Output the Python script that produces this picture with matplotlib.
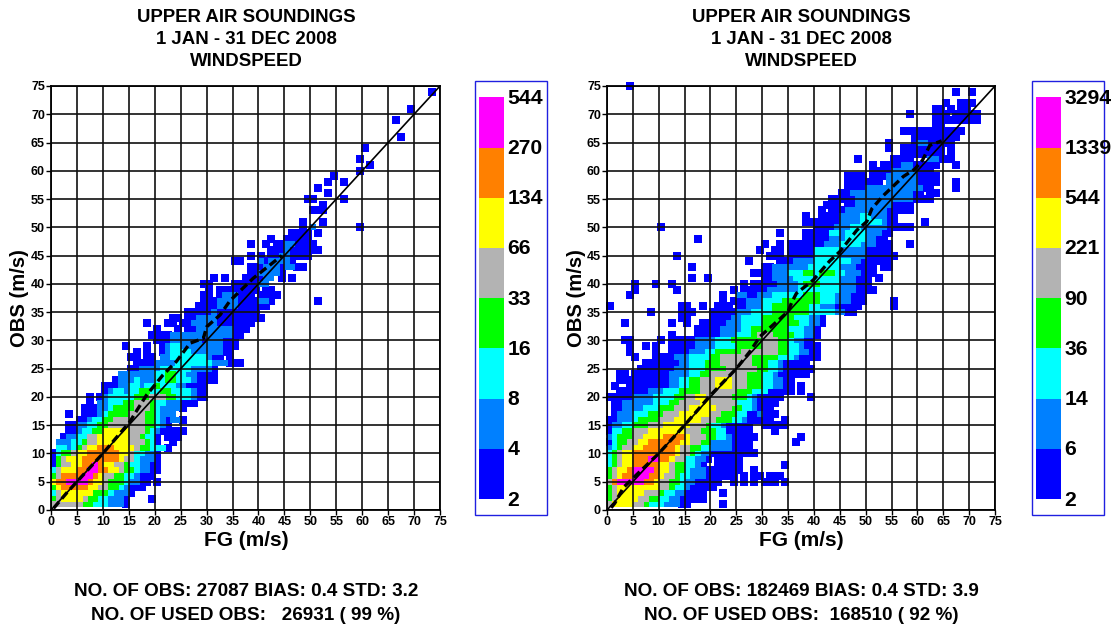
import matplotlib
matplotlib.use("Agg")
import matplotlib.pyplot as plt
from matplotlib.patches import Rectangle

plt.rcParams["font.family"] = ["Liberation Sans", "DejaVu Sans"]
plt.rcParams["font.weight"] = "bold"

W, H = 1120, 628

level_colors = ["#0000ff", "#0080ff", "#00ffff", "#00ff00", "#b3b3b3", "#ffff00", "#ff8000", "#ff00ff"]
left_levels = ["2", "4", "8", "16", "33", "66", "134", "270", "544"]
right_levels = ["2", "6", "14", "36", "90", "221", "544", "1339", "3294"]
ticks = list(range(0, 80, 5))

# one string per OBS value (index = m/s), "col:digits", digit = colour class
left_rows = [
    "",
    "0:55555544333222 1",
    "0:4566665443 3222 14:1 19:1",
    "0:356666664443222 1",
    "0:467777766554432111",
    "0:677888876654443 2 2 1 1 20:1",
    "0:45777788765544332 111",
    "0:356667788776654432211",
    "0:145566778766554332211",
    "0:1456667777777 6553 2221",
    "0:13445667777776 6 5 3 3 2 2 1",
    "1:33234566777666654433 31",
    "1:22233455666666555431 23:1",
    "2:1223355666666554331 22:111",
    "3:11233446666655543211111",
    "3:11223344555555544321",
    "5:112334455555544321221",
    "3:1 6:111234444555443222",
    "6:11122344445554322221",
    "7:1 9:2233344555433 2 2 2111",
    "7:1 9:1233333444555443332 11 27:1",
    "10:12332334433443333211",
    "10:11122332334333221111",
    "12:12223222334433321111",
    "13:2222222334433221111",
    "15:11222233333322221",
    "16:1111222233333332221 1 1",
    "15:1 16:1 18:11 21:2233333332 11 34:1",
    "16:1 18:1 21:12333322222211",
    "14:1 18:1 21:123322222222 11 35:1",
    "20:111222222122211 1",
    "19:11112222222222221 1",
    "20:1 24:1 26:112222222111",
    "18:1 22:11 25:11222221111111",
    "23:11 26:112222111111111",
    "26:11111211111111",
    "28:11112222111111",
    "29:1112222111122 1 51:1",
    "29:11 32:12221110 40:111 43:1",
    "30:1 32:11111111 41:11",
    "29:11 35:11111 40:22",
    "31:1 33:1 37:111122 44:1 46:1",
    "38:1122221",
    "38:11122212211",
    "35:11 40:212222 1",
    "38:1 40:1 42:11221111",
    "42:1112111111",
    "38:1 41:1 43:11221111",
    "42:1 45:11111",
    "46:1111 51:1",
    "48:1 50:2 59:1",
    "48:1 52:1",
    "",
    "50:111",
    "52:1",
    "49:11 56:1",
    "53:1",
    "51:1",
    "53:1 56:1",
    "54:1",
    "59:1",
    "61:1",
    "59:1",
    "",
    "60:1",
    "",
    "67:1",
    "",
    "",
    "66:1",
    "",
    "69:1",
    "",
    "",
    "73:1",
]

right_rows = [
    "",
    "0:566665543332221 1 22:1",
    "0:4566665544332211111",
    "0:4566666555433221111 22:1",
    "0:456666666655433211111",
    "0:5788888776554432211111 24:1 26:1 28:1 30:111 34:1",
    "0:4567788877655433222111111 26:1 28:11 31:111",
    "0:45667888876654432221111111 28:1",
    "0:3456677777665443321 21:1111 25:1 34:1",
    "0:34566777887765533221 21:11111",
    "0:345667777777765543221 21:1111111 28:1",
    "0:2345566777777655443322221111",
    "0:1344556677777766554422221111 36:1",
    "0:23444556666777765554433211111 37:1",
    "0:1334455566666665554443311111 32:1",
    "0:1223344455566666555433211111 30:11111",
    "0:112223444455566666555444332111 1 31:1 34:1",
    "1:122233344455566666655444331 1 2 111",
    "1:11222233344455566666555443321 11",
    "1:1122222233344555566555553332 1111",
    "0:1111122223333445566555554443 2 11111 39:1",
    "2:111 5:11122233344445555555444333 1111 35:1 37:1",
    "1:1 4:11111111223344555666555444332211 37:1",
    "2:11 4:11111111223344555666555444332211",
    "2:11 5:1111111222233445555555444 33 2 111111 37:1",
    "6:1111111222333444455555544 332 111111",
    "7:1 8:11111122333444555555444 33 2 11111",
    "5:1 9:1111222333344 555555444443332 1111",
    "4:1 9:1 12:11112223344444 5555555 44332 211",
    "4:1 7:1 9:1 12:111112222333344444555443 3 2 111",
    "3:11 10:1 12:111112222333444444555443 22 11",
    "12:1 17:11111222333 4555 4444 33 22 1",
    "17:111112222334444444 3332 21",
    "3:1 12:1 15:1 18:11111222333344444443322 1",
    "14:11 20:11112233334444443332 21",
    "8:1 14:111 20:11111222333344444443333322 11",
    "0:1 14:11 18:1 21:111 25:11222334444444332221111 48:1 55:1",
    "22:1 24:111222333344444443332 221 11 48:1 55:1",
    "4:1 22:1 25:221122233333344433322211 1",
    "5:1 13:1 24:1 26:1111 30:1222222333333332 2 2 1111",
    "5:1 9:1 12:1 26:1 28:1111 32:1222 2 3 4 4 4 3 3 3 3 2 2 2 1 1 1",
    "16:1 19:1 30:11222233333333322 2 111 52:1",
    "28:11112223334 4 3444332221 1 1",
    "16:1 30:1 31:12222222 33333 3 2 2 2 1111 53:11",
    "27:1 33:1112222 333333322 1111 11",
    "13:1 31:111 35:11111 40:33333 45:22222 50:111111",
    "29:1 32:11 35:11111 40:33333 45:22222 50:11111",
    "30:1 33:1 35:1111111 42:222 45:3333 49:222 52:111 58:1",
    "17:1 38:11111 43:222 46:3333 50:22 52:11",
    "33:1 38:11111 43:33 45:2 46:3333 50:222 53:11",
    "10:1 40:1111 44:222 47:33 49:222 52:22 54:11 56:111",
    "38:1111111 45:2222 49:33 51:33 53:2 54:11 61:1",
    "38:1 41:1111 45:2222 49:33 51:222 54:11",
    "41:1 43:111 46:22222 2 2 2 11111",
    "42:111 46:11 48:2222222 11 1 1",
    "43:111 46:11 48:22222222222 1 1 1 1",
    "45:11 47:22 49:222222 2222 11 62:11",
    "46:1111 50:22222222222 61:11 67:1",
    "46:1111111 54:222222 1 1 1 1 67:1",
    "46:1111 51:111 54:222222 1111",
    "51:1111 55:22222 111",
    "51:1 53:1111 57:22 1 1 1 1 1 67:1",
    "48:1 55:1111 62:22 1 1 1 66:1",
    "57:111 60:11111 66:1",
    "54:1 57:111 60:11111 66:1",
    "54:1 59:1 60:22 62:11111",
    "59:111111111",
    "57:111111111111",
    "63:11",
    "63:111 66:111111",
    "58:1 63:111 67:1111 71:1",
    "63:11 66:1 68:11",
    "65:1 68:11 70:1",
    "",
    "67:1 70:1",
    "4:1",
]

left_mean_fg = [0.5, 3, 5, 10, 15.2, 16.2, 18.4, 21.6, 24.2, 26.8, 29.4, 30, 32.6, 34.5, 39, 44.5]
left_mean_obs = [0.3, 3, 5, 10, 15.6, 17.1, 20.3, 23.9, 26.3, 29.5, 30.4, 32.4, 34.5, 37, 41, 45]
right_mean_fg = [0.8, 1.5, 3.2, 5, 10, 15, 20, 25, 27.6, 29.6, 35, 35.7, 36.6, 39.9, 43, 45, 48.3, 50.2, 51.2, 53.4, 55, 57.3, 59.5, 61, 62.4, 64.7]
right_mean_obs = [0.4, 1.2, 4, 5.6, 10, 15, 20.3, 25, 28, 30.7, 35.1, 36.7, 38.3, 40.7, 44, 45.7, 49.5, 51, 53.3, 55.6, 57, 59, 60.3, 61.9, 64.5, 65.3]

titles = ["UPPER AIR SOUNDINGS", "1 JAN - 31 DEC 2008", "WINDSPEED"]
left_stats = ["NO. OF OBS: 27087 BIAS: 0.4 STD: 3.2", "NO. OF USED OBS:   26931 ( 99 %)"]
right_stats = ["NO. OF OBS: 182469 BIAS: 0.4 STD: 3.9", "NO. OF USED OBS:  168510 ( 92 %)"]


def parse(rows):
    out = [[] for _ in level_colors]
    for obs, row in enumerate(rows):
        col = None
        for part in row.split():
            if ":" in part:
                start, digits = part.split(":")
                col = int(start)
            else:
                digits = part
            for ch in digits:
                if ch != "0":
                    out[int(ch) - 1].append((col + 0.5, obs))
                col += 1
    return out


def panel(x0, x1, rows, mean_fg, mean_obs, levels, stats, bar_x):
    cx = (x0 + x1) / 2 + 0.5
    ax = fig.add_axes([x0 / W, 1 - 510 / H, (x1 - x0) / W, 424 / H])
    cells = parse(rows)
    for i, pts in enumerate(cells):
        if pts:
            xs = [p[0] for p in pts]
            ys = [p[1] for p in pts]
            size = 33 if i == 0 else 17
            ax.scatter(xs, ys, s=size, marker="s", color=level_colors[i], linewidths=0, zorder=2 + i * 0.01, clip_on=False)
    ax.set_xlim(0, 75)
    ax.set_ylim(0, 75)
    ax.set_xticks(ticks)
    ax.set_yticks(ticks)
    ax.tick_params(labelsize=9, length=3.4, width=1, pad=1, color="black")
    ax.grid(True, color="#111111", linewidth=1.2, zorder=3)
    ax.set_axisbelow(False)
    for s in ax.spines.values():
        s.set_linewidth(1.3)
        s.set_zorder(6)
    ax.plot([0, 75], [0, 75], color="black", linewidth=1.2, zorder=4)
    ax.plot(mean_fg, mean_obs, color="black", linewidth=2.4, dashes=(2.5, 1.3), zorder=5)
    fig.text(cx / W, 1 - 541 / H, "FG (m/s)", ha="center", va="center", fontsize=15)
    fig.text((x0 - 31) / W, 1 - 298.5 / H, "OBS (m/s)", rotation=90, ha="center", va="center", fontsize=14.6)
    for i, t in enumerate(titles):
        fig.text(cx / W, 1 - (17.5 + 22.2 * i) / H, t, ha="center", va="center", fontsize=13.4)
    for i, t in enumerate(stats):
        fig.text(cx / W, 1 - (592 + 23 * i) / H, t, ha="center", va="center", fontsize=13.6)
    # colour key
    fig.add_artist(Rectangle((bar_x / W, 1 - 515 / H), 71.5 / W, 434 / H, transform=fig.transFigure, facecolor="white", edgecolor="#2020e0", linewidth=1))
    for i, c in enumerate(level_colors):
        top = 499 - 50.2 * i
        fig.add_artist(Rectangle(((bar_x + 4) / W, 1 - top / H), 25 / W, 50.2 / H, transform=fig.transFigure, facecolor=c, edgecolor="none"))
    for i, lab in enumerate(levels):
        fig.text((bar_x + 32.5) / W, 1 - (500 - 50.2 * i) / H, lab, ha="left", va="center", fontsize=15.2)


fig = plt.figure(figsize=(W / 100, H / 100), dpi=100)
panel(51, 440, left_rows, left_mean_fg, left_mean_obs, left_levels, left_stats, 475)
panel(607, 995, right_rows, right_mean_fg, right_mean_obs, right_levels, right_stats, 1032)
fig.savefig("out.png", dpi=100)
